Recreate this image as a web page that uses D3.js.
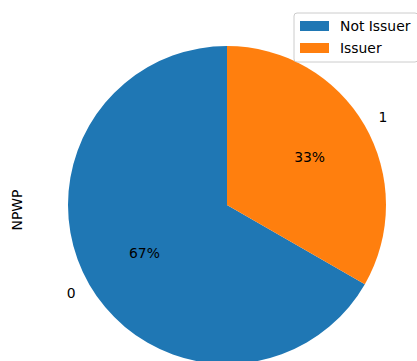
<!DOCTYPE html>
<html>
<head>
<meta charset="utf-8">
<script src="https://cdn.jsdelivr.net/npm/d3@7"></script>
<style>
  body { margin: 0; background: #fff; }
  text { font-family: "DejaVu Sans", sans-serif; }
</style>
</head>
<body>
<div id="chart"></div>
<script>
// pie data (share of NPWP issuers)
const categories = ["0", "1"];
const legendNames = ["Not Issuer", "Issuer"];
const values = [66.7, 33.3];
const colors = ["#1f77b4", "#ff7f0e"];

const width = 417, height = 361;
const cx = 227, cy = 205, radius = 159;
const fontPx = 13.9;

const svg = d3.select("#chart").append("svg")
    .attr("width", width)
    .attr("height", height);

const g = svg.append("g").attr("transform", `translate(${cx},${cy})`);

// matplotlib style: startangle 90, counterclockwise
const pie = d3.pie()
    .sort(null)
    .startAngle(0)
    .endAngle(-2 * Math.PI);

const arcs = pie(values);
const arc = d3.arc().innerRadius(0).outerRadius(radius);

g.selectAll("path.slice")
    .data(arcs)
    .enter().append("path")
    .attr("class", "slice")
    .attr("d", arc)
    .attr("fill", (d, i) => colors[i]);

const mid = d => (d.startAngle + d.endAngle) / 2;

// percentage labels at 0.6 r
g.selectAll("text.pct")
    .data(arcs)
    .enter().append("text")
    .attr("class", "pct")
    .attr("x", d => Math.sin(mid(d)) * radius * 0.6)
    .attr("y", d => -Math.cos(mid(d)) * radius * 0.6)
    .attr("text-anchor", "middle")
    .attr("dominant-baseline", "central")
    .attr("font-size", fontPx)
    .attr("fill", "#000")
    .text(d => Math.round(d.data / d3.sum(values) * 100) + "%");

// category labels at 1.1 r
g.selectAll("text.cat")
    .data(arcs)
    .enter().append("text")
    .attr("class", "cat")
    .attr("x", d => Math.sin(mid(d)) * radius * 1.1)
    .attr("y", d => -Math.cos(mid(d)) * radius * 1.1)
    .attr("text-anchor", d => Math.sin(mid(d)) < 0 ? "end" : "start")
    .attr("dominant-baseline", "central")
    .attr("font-size", fontPx)
    .attr("fill", "#000")
    .text((d, i) => categories[i]);

// y label
svg.append("text")
    .attr("transform", "translate(22,210) rotate(-90)")
    .attr("text-anchor", "middle")
    .attr("font-size", fontPx)
    .text("NPWP");

// legend
const legend = svg.append("g").attr("transform", "translate(294,13)");
legend.append("rect")
    .attr("width", 124).attr("height", 49)
    .attr("rx", 3)
    .attr("fill", "#fff").attr("fill-opacity", 0.8)
    .attr("stroke", "#cccccc");

legendNames.forEach((name, i) => {
    legend.append("rect")
        .attr("x", 6).attr("y", 8 + i * 22)
        .attr("width", 29).attr("height", 10)
        .attr("fill", colors[i]);
    legend.append("text")
        .attr("x", 46).attr("y", 13 + i * 22)
        .attr("dominant-baseline", "central")
        .attr("font-size", fontPx)
        .text(name);
});
</script>
</body>
</html>
